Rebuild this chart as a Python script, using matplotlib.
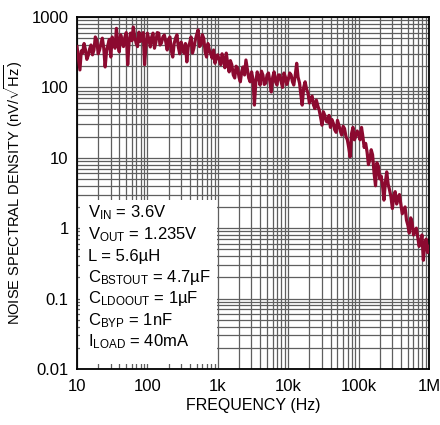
import matplotlib
matplotlib.use("Agg")
import matplotlib.pyplot as plt
from matplotlib.patches import Rectangle
from matplotlib.ticker import LogLocator, FixedFormatter, NullFormatter

plt.rcParams['font.family'] = ['Liberation Sans', 'DejaVu Sans']
plt.rcParams['mathtext.fontset'] = 'custom'
plt.rcParams['mathtext.rm'] = 'Liberation Sans'
plt.rcParams['mathtext.it'] = 'Liberation Sans'

# sample positions inside each decade
steps = [1.00, 1.05, 1.10, 1.15, 1.20, 1.26, 1.32, 1.38, 1.45, 1.51,
         1.58, 1.66, 1.74, 1.82, 1.91, 2.00, 2.09, 2.19, 2.29, 2.40,
         2.51, 2.63, 2.75, 2.88, 3.02, 3.16, 3.31, 3.47, 3.63, 3.80,
         3.98, 4.17, 4.37, 4.57, 4.79, 5.01, 5.25, 5.50, 5.75, 6.03,
         6.31, 6.61, 6.92, 7.24, 7.59, 7.94, 8.32, 8.71, 9.12, 9.55]
decades = [10, 100, 1000, 10000, 100000]

# noise density in nV/rtHz, one list per decade
noise_10 = [380, 260, 177, 330, 307, 420, 340, 250, 288, 350,
            400, 290, 340, 520, 470, 300, 340, 420, 500, 360,
            195, 330, 400, 480, 270, 520, 425, 360, 690, 420,
            320, 560, 470, 380, 520, 600, 210, 450, 590, 460,
            720, 520, 425, 380, 610, 450, 500, 600, 210, 400]
noise_100 = [590, 480, 375, 520, 590, 360, 440, 600, 590, 400,
             425, 520, 555, 450, 340, 480, 520, 330, 270, 420,
             500, 560, 375, 300, 440, 360, 307, 420, 230, 380,
             425, 520, 307, 360, 470, 560, 655, 380, 400, 560,
             500, 320, 270, 420, 340, 300, 260, 340, 220, 280]
noise_1k = [290, 240, 210, 300, 260, 190, 307, 220, 166, 240,
            210, 150, 136, 200, 188, 140, 120, 170, 195, 150,
            245, 180, 136, 120, 166, 130, 56, 120, 166, 140,
            108, 170, 150, 110, 115, 150, 160, 120, 86, 140,
            166, 120, 108, 150, 150, 120, 100, 160, 140, 110]
noise_10k = [128, 160, 150, 120, 108, 150, 220, 140, 115, 80,
             56, 100, 120, 95, 83, 60, 70, 75, 56, 50,
             66, 55, 48, 38, 29, 45, 40, 33, 32, 40,
             27, 35, 31, 25, 23, 34, 29, 24, 21, 28,
             26, 20, 18, 14, 10.3, 22, 27, 18, 20, 24]
noise_100k = [22, 18, 27, 20, 14, 16, 12, 8, 9.5, 13,
              11, 6, 4.0, 8.5, 7.5, 5, 5.5, 4, 2.5, 4.5,
              6.3, 4.2, 3.5, 2.8, 1.9, 2.9, 3.3, 2.2, 2.6, 3.0,
              2.2, 1.6, 1.8, 2.0, 1.3, 1.1, 0.85, 1.4, 1.2, 0.8,
              0.9, 1.0, 0.75, 0.55, 0.62, 0.8, 0.35, 0.6, 0.7, 0.45]
noise_1M = [0.55]

freq = [d * s for d in decades for s in steps] + [1e6]
noise = noise_10 + noise_100 + noise_1k + noise_10k + noise_100k + noise_1M

xticks = [10, 100, 1e3, 1e4, 1e5, 1e6]
xlabels = ['10', '100', '1k', '10k', '100k', '1M']
yticks = [0.01, 0.1, 1, 10, 100, 1000]
ylabels = ['0.01', '0.1', '1', '10', '100', '1000']

conditions = [r'V$_{\mathrm{IN}}$ = 3.6V',
              r'V$_{\mathrm{OUT}}$ = 1.235V',
              'L = 5.6µH',
              r'C$_{\mathrm{BSTOUT}}$ = 4.7µF',
              r'C$_{\mathrm{LDOOUT}}$ = 1µF',
              r'C$_{\mathrm{BYP}}$ = 1nF',
              r'I$_{\mathrm{LOAD}}$ = 40mA']

fig = plt.figure(figsize=(4.4, 4.25), dpi=100)
ax = fig.add_axes([0.175, 0.132, 0.8, 0.828])

ax.plot(freq, noise, color='#8c0a30', lw=2.3, zorder=3)

ax.set_xscale('log')
ax.set_yscale('log')
ax.set_xlim(10, 1e6)
ax.set_ylim(0.01, 1000)

ax.set_xticks(xticks)
ax.xaxis.set_major_formatter(FixedFormatter(xlabels))
ax.set_yticks(yticks)
ax.yaxis.set_major_formatter(FixedFormatter(ylabels))
ax.xaxis.set_minor_locator(LogLocator(base=10, subs=range(2, 10), numticks=20))
ax.yaxis.set_minor_locator(LogLocator(base=10, subs=range(2, 10), numticks=20))
ax.xaxis.set_minor_formatter(NullFormatter())
ax.yaxis.set_minor_formatter(NullFormatter())
ax.tick_params(which='both', direction='in', length=0, labelsize=12)
ax.tick_params(axis='x', pad=7)
ax.tick_params(axis='y', pad=6)

ax.set_axisbelow(True)
ax.grid(which='both', color='#5f5f5f', lw=0.9)
for s in ax.spines.values():
    s.set_linewidth(1.3)

# white box behind the operating conditions
ax.add_patch(Rectangle((0.009, 0.014), 0.3895, 0.466, transform=ax.transAxes,
                       facecolor='white', edgecolor='none', zorder=1))
for i, t in enumerate(conditions):
    ax.text(0.03, 0.43 - i * 0.061, t, transform=ax.transAxes, fontsize=12,
            va='baseline', ha='left', zorder=4)

ax.set_xlabel('FREQUENCY (Hz)', fontsize=11.5, labelpad=3)
ax.set_ylabel(r'NOISE SPECTRAL DENSITY (nV/$\sqrt{\mathrm{Hz}}$)', fontsize=10.5, labelpad=5)

fig.savefig('out.png', dpi=100)
